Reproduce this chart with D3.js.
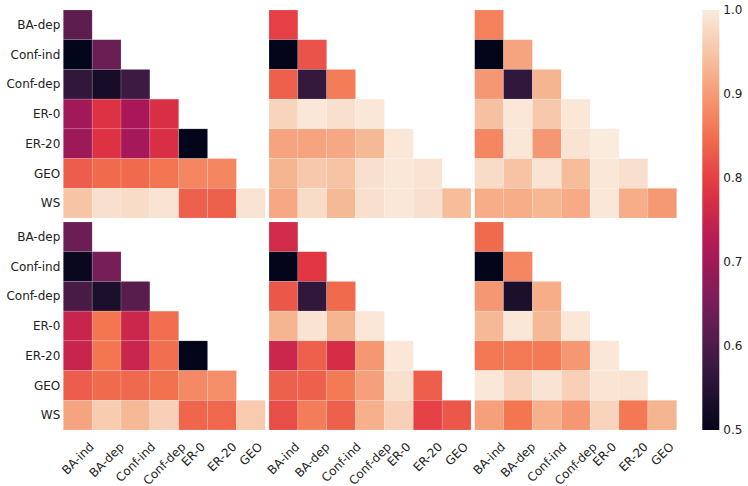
<!DOCTYPE html>
<html>
<head>
<meta charset="utf-8">
<script src="https://cdn.jsdelivr.net/npm/d3@7"></script>
<style>
  body { margin: 0; background: #fff; }
  text { font-family: "DejaVu Sans", sans-serif; fill: #222; }
</style>
</head>
<body>
<div id="chart"></div>
<script>
// labels

var rowLabels = ["BA-dep", "Conf-ind", "Conf-dep", "ER-0", "ER-20", "GEO", "WS"];
var colLabels = ["BA-ind", "BA-dep", "Conf-ind", "Conf-dep", "ER-0", "ER-20", "GEO"];
var cbarTicks = [0.5, 0.6, 0.7, 0.8, 0.9, 1.0];

// lower triangle values, one row per rowLabel

var topLeft = [
  [0.62],
  [0.50, 0.635],
  [0.565, 0.53, 0.58],
  [0.70, 0.78, 0.71, 0.775],
  [0.695, 0.78, 0.705, 0.775, 0.50],
  [0.83, 0.845, 0.845, 0.855, 0.875, 0.875],
  [0.95, 0.985, 0.98, 0.99, 0.835, 0.835, 0.99]
];

var topMid = [
  [0.80],
  [0.50, 0.82],
  [0.835, 0.57, 0.865],
  [0.97, 0.995, 0.985, 0.995],
  [0.91, 0.91, 0.915, 0.935, 0.995],
  [0.93, 0.955, 0.948, 0.985, 0.995, 0.99],
  [0.915, 0.98, 0.935, 0.985, 0.995, 0.985, 0.94]
];

var topRight = [
  [0.87],
  [0.50, 0.91],
  [0.895, 0.565, 0.93],
  [0.945, 0.995, 0.955, 0.995],
  [0.875, 0.995, 0.895, 0.99, 1.0],
  [0.98, 0.948, 0.99, 0.94, 0.995, 0.985],
  [0.92, 0.92, 0.932, 0.917, 0.995, 0.92, 0.897]
];

var botLeft = [
  [0.635],
  [0.51, 0.65],
  [0.595, 0.535, 0.615],
  [0.75, 0.857, 0.755, 0.85],
  [0.75, 0.857, 0.752, 0.85, 0.50],
  [0.83, 0.845, 0.843, 0.853, 0.88, 0.885],
  [0.91, 0.96, 0.935, 0.965, 0.84, 0.842, 0.958]
];

var botMid = [
  [0.765],
  [0.50, 0.79],
  [0.825, 0.565, 0.845],
  [0.93, 0.99, 0.93, 0.995],
  [0.755, 0.835, 0.77, 0.895, 0.995],
  [0.835, 0.835, 0.862, 0.905, 0.985, 0.832],
  [0.815, 0.865, 0.835, 0.925, 0.965, 0.80, 0.825]
];

var botRight = [
  [0.845],
  [0.50, 0.875],
  [0.895, 0.535, 0.92],
  [0.935, 0.995, 0.935, 0.995],
  [0.86, 0.862, 0.862, 0.895, 0.995],
  [0.995, 0.968, 0.99, 0.965, 0.992, 0.99],
  [0.905, 0.857, 0.925, 0.895, 0.97, 0.86, 0.93]
];

var panels = [
  { data: topLeft, row: 0, col: 0 },
  { data: topMid, row: 0, col: 1 },
  { data: topRight, row: 0, col: 2 },
  { data: botLeft, row: 1, col: 0 },
  { data: botMid, row: 1, col: 1 },
  { data: botRight, row: 1, col: 2 }
];

// sizes

var svgWidth = 748;
var svgHeight = 486;
var panelLeft = 63.3;
var panelTop = 10;
var panelW = 202;
var panelH = 208;
var stepX = 205.7;
var stepY = 212;

// rocket colormap (approx)

var rocket = d3.piecewise(d3.interpolateRgb, [
  "#03051a", "#35193e", "#701f57", "#ad1759",
  "#e13342", "#f37651", "#f6b48f", "#faebdd"
]);
var color = d3.scaleSequential(rocket).domain([0.5, 1.0]).clamp(true);

var svg = d3.select("#chart")
  .append("svg")
  .attr("width", svgWidth)
  .attr("height", svgHeight);

var xScale = d3.scaleBand().domain(colLabels).range([0, panelW]);
var yScale = d3.scaleBand().domain(rowLabels).range([0, panelH]);

panels.forEach(function(p) {
  var g = svg.append("g")
    .attr("transform", "translate(" + (panelLeft + p.col * stepX) + "," + (panelTop + p.row * stepY) + ")");

  var cells = [];
  p.data.forEach(function(vals, i) {
    vals.forEach(function(v, j) {
      cells.push({ r: rowLabels[i], c: colLabels[j], v: v });
    });
  });

  g.selectAll("rect").data(cells).enter()
    .append("rect")
    .attr("x", d => xScale(d.c))
    .attr("y", d => yScale(d.r))
    .attr("width", xScale.bandwidth())
    .attr("height", yScale.bandwidth())
    .attr("fill", d => color(d.v))
    .attr("stroke", "#fff")
    .attr("stroke-opacity", 0.25)
    .attr("stroke-width", 0.6);

  // y labels only on first column
  if (p.col == 0) {
    g.selectAll(".ylab").data(rowLabels).enter()
      .append("text")
      .attr("class", "ylab")
      .attr("x", -3)
      .attr("y", d => yScale(d) + yScale.bandwidth() / 2)
      .attr("dy", "0.35em")
      .attr("text-anchor", "end")
      .attr("font-size", 12)
      .text(d => d);
  }

  // x labels only on bottom row, rotated, bbox centered on column
  if (p.row == 1) {
    var top = panelH + 10;
    g.selectAll(".xlab").data(colLabels).enter()
      .append("text")
      .attr("class", "xlab")
      .attr("text-anchor", "middle")
      .attr("dy", "0.35em")
      .attr("font-size", 12)
      .text(d => d)
      .each(function(d) {
        var w = this.getComputedTextLength();
        var half = (w + 13) / (2 * Math.SQRT2);
        var cx = xScale(d) + xScale.bandwidth() / 2;
        d3.select(this).attr("transform", "translate(" + cx + "," + (top + half) + ") rotate(-45)");
      });
  }
});

// colorbar

var cbarX = 702.3;
var cbarW = 17;
var cbarTop = 10;
var cbarBottom = 430;

var defs = svg.append("defs");
var grad = defs.append("linearGradient")
  .attr("id", "cbar")
  .attr("x1", 0).attr("y1", 1)
  .attr("x2", 0).attr("y2", 0);
d3.range(0, 1.0001, 0.05).forEach(function(t) {
  grad.append("stop")
    .attr("offset", t)
    .attr("stop-color", rocket(t));
});

svg.append("rect")
  .attr("x", cbarX)
  .attr("y", cbarTop)
  .attr("width", cbarW)
  .attr("height", cbarBottom - cbarTop)
  .attr("fill", "url(#cbar)");

var cScale = d3.scaleLinear().domain([0.5, 1.0]).range([cbarBottom, cbarTop]);
var cAxis = d3.axisRight(cScale).tickValues(cbarTicks).tickFormat(d3.format(".1f")).tickSize(0).tickPadding(4);

var cg = svg.append("g")
  .attr("transform", "translate(" + (cbarX + cbarW) + ",0)")
  .call(cAxis);
cg.select(".domain").remove();
cg.selectAll("text")
  .attr("font-size", 12)
  .attr("font-family", "DejaVu Sans, sans-serif")
  .attr("fill", "#222");
</script>
</body>
</html>
